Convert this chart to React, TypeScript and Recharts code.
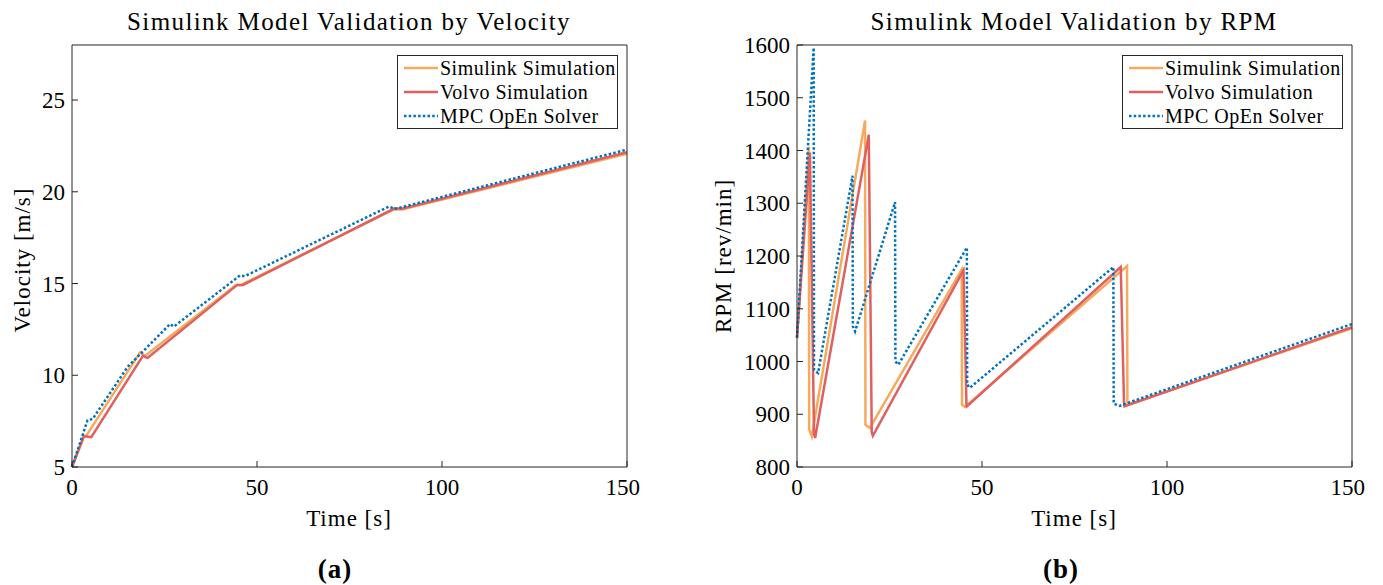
import React from 'react';
import { LineChart, Line, XAxis, YAxis } from 'recharts';

// velocity plot (a)
const velSimT = [0, 3.2, 4.0, 18.4, 19.7, 44.5, 45.6, 87.2, 89.2, 150];
const velSimV = [5.0, 6.67, 6.75, 11.25, 11.05, 14.94, 14.93, 19.05, 19.04, 22.07];
const velVolvoT = [0, 3.2, 5.2, 19.2, 20.4, 44.5, 46.2, 87.2, 89.2, 150];
const velVolvoV = [5.0, 6.67, 6.63, 11.07, 10.94, 14.9, 14.92, 19.1, 19.08, 22.15];
const velMpcT = [0, 4.2, 5.6, 15.0, 26.5, 27.5, 45.4, 46.7, 85.7, 87.2, 150];
const velMpcV = [5.0, 7.55, 7.62, 10.45, 12.79, 12.65, 15.44, 15.4, 19.2, 19.06, 22.3];

// rpm plot (b)
const rpmSimT = [0, 3.2, 3.3, 4.0, 18.4, 18.5, 19.7, 44.5, 44.6, 45.4, 89.2, 89.3, 150];
const rpmSimV = [1045, 1407, 871, 858, 1457, 880, 874, 1174, 918, 914, 1181, 918, 1063];
const rpmVolvoT = [0, 3.5, 4.6, 4.9, 19.4, 20.2, 20.5, 45.0, 45.8, 45.9, 87.5, 88.4, 88.5, 150];
const rpmVolvoV = [1045, 1396, 862, 855, 1430, 866, 859, 1173, 918, 915, 1179, 918, 915, 1065];
const rpmMpcT = [0, 4.5, 4.6, 5.7, 15.0, 15.1, 15.7, 26.5, 26.6, 27.4, 45.9, 46.0, 46.7, 85.5, 85.6, 87.2, 150];
const rpmMpcV = [1045, 1595, 984, 978, 1352, 1067, 1057, 1302, 1000, 994, 1216, 956, 950, 1179, 920, 916, 1071];

const timeTicks = [0, 50, 100, 150];
const velTicks = [5, 10, 15, 20, 25];
const rpmTicks = [800, 900, 1000, 1100, 1200, 1300, 1400, 1500, 1600];

const seriesNames = ['Simulink Simulation', 'Volvo Simulation', 'MPC OpEn Solver'];
const seriesColors = ['#F6AA5E', '#E0605F', '#0072BD'];

const FONT = '"Liberation Serif", "DejaVu Serif", serif';
const AX = '#262626';

const toPts = (t: number[], v: number[]) => t.map((x, i) => ({ t: x, v: v[i] }));

const Legend = ({ left, top }: { left: number; top: number }) => (
  <div
    style={{
      position: 'absolute',
      left,
      top,
      width: 221,
      height: 74,
      border: `1px solid ${AX}`,
      background: '#fff',
      boxSizing: 'border-box',
      fontFamily: FONT,
      fontSize: 20,
      letterSpacing: 0.5,
      color: '#000',
    }}
  >
    {seriesNames.map((n, i) => (
      <div key={n} style={{ display: 'flex', alignItems: 'center', height: 24 }}>
        <svg width={40} height={10} style={{ marginLeft: 5 }}>
          <line
            x1={1}
            x2={35}
            y1={5}
            y2={5}
            stroke={seriesColors[i]}
            strokeWidth={2.5}
            strokeDasharray={i === 2 ? '2.5 2.2' : undefined}
          />
        </svg>
        <span style={{ marginLeft: -3, whiteSpace: 'nowrap' }}>{n}</span>
      </div>
    ))}
  </div>
);

type PanelProps = {
  left: number;
  width: number;
  yWidth: number;
  domain: [number, number];
  yTicks: number[];
  sim: { t: number; v: number }[];
  volvo: { t: number; v: number }[];
  mpc: { t: number; v: number }[];
};

function Panel({ left, width, yWidth, domain, yTicks, sim, volvo, mpc }: PanelProps) {
  const tickStyle = { fontFamily: FONT, fontSize: 23, fill: '#000' };
  return (
    <div style={{ position: 'absolute', left, top: 0 }}>
      <LineChart width={width} height={500} margin={{ top: 44, right: 12, left: 12, bottom: 0 }}>
        <XAxis
          xAxisId="b"
          type="number"
          dataKey="t"
          domain={[0, 150]}
          ticks={timeTicks}
          height={33}
          stroke={AX}
          tickSize={-6}
          tickMargin={18}
          tick={tickStyle}
          allowDuplicatedCategory={false}
        />
        <XAxis
          xAxisId="t"
          orientation="top"
          type="number"
          dataKey="t"
          domain={[0, 150]}
          ticks={timeTicks}
          height={1}
          stroke={AX}
          tickSize={-6}
          tickFormatter={() => ''}
        />
        <YAxis
          yAxisId="l"
          type="number"
          domain={domain}
          ticks={yTicks}
          width={yWidth}
          stroke={AX}
          tickSize={-6}
          tickMargin={13}
          tick={tickStyle}
        />
        <YAxis
          yAxisId="r"
          orientation="right"
          type="number"
          domain={domain}
          ticks={yTicks}
          width={1}
          stroke={AX}
          tickSize={-6}
          tickFormatter={() => ''}
        />
        <Line
          xAxisId="b"
          yAxisId="l"
          data={sim}
          dataKey="v"
          type="linear"
          stroke={seriesColors[0]}
          strokeWidth={2.5}
          dot={false}
          isAnimationActive={false}
        />
        <Line
          xAxisId="b"
          yAxisId="l"
          data={volvo}
          dataKey="v"
          type="linear"
          stroke={seriesColors[1]}
          strokeWidth={2.5}
          dot={false}
          isAnimationActive={false}
        />
        <Line
          xAxisId="b"
          yAxisId="l"
          data={mpc}
          dataKey="v"
          type="linear"
          stroke={seriesColors[2]}
          strokeWidth={2.5}
          strokeDasharray="2.5 2.2"
          dot={false}
          isAnimationActive={false}
        />
      </LineChart>
    </div>
  );
}

const txt = (extra: React.CSSProperties): React.CSSProperties => ({
  position: 'absolute',
  fontFamily: FONT,
  color: '#000',
  whiteSpace: 'nowrap',
  lineHeight: 1,
  ...extra,
});

export default function App() {
  return (
    <div style={{ position: 'absolute', left: 0, top: 0, width: 1383, height: 585, background: '#fff' }}>
      <Panel
        left={0}
        width={640}
        yWidth={60}
        domain={[5, 28]}
        yTicks={velTicks}
        sim={toPts(velSimT, velSimV)}
        volvo={toPts(velVolvoT, velVolvoV)}
        mpc={toPts(velMpcT, velMpcV)}
      />
      <Panel
        left={700}
        width={665}
        yWidth={85}
        domain={[800, 1600]}
        yTicks={rpmTicks}
        sim={toPts(rpmSimT, rpmSimV)}
        volvo={toPts(rpmVolvoT, rpmVolvoV)}
        mpc={toPts(rpmMpcT, rpmMpcV)}
      />
      <Legend left={397} top={55} />
      <Legend left={1122} top={55} />

      <div style={txt({ left: 349, top: 9, fontSize: 25, letterSpacing: 1.4, transform: 'translateX(-50%)' })}>
        Simulink Model Validation by Velocity
      </div>
      <div style={txt({ left: 1074, top: 9, fontSize: 25, letterSpacing: 1.4, transform: 'translateX(-50%)' })}>
        Simulink Model Validation by RPM
      </div>
      <div style={txt({ left: 349, top: 507, fontSize: 23, letterSpacing: 1, transform: 'translateX(-50%)' })}>
        Time [s]
      </div>
      <div style={txt({ left: 1074, top: 507, fontSize: 23, letterSpacing: 1, transform: 'translateX(-50%)' })}>
        Time [s]
      </div>
      <div
        style={txt({
          left: 22,
          top: 260,
          fontSize: 23,
          letterSpacing: 1,
          transform: 'translate(-50%, -50%) rotate(-90deg)',
        })}
      >
        Velocity [m/s]
      </div>
      <div
        style={txt({
          left: 723,
          top: 256,
          fontSize: 23,
          letterSpacing: 1,
          transform: 'translate(-50%, -50%) rotate(-90deg)',
        })}
      >
        RPM [rev/min]
      </div>
      <div
        style={txt({ left: 335, top: 556, fontSize: 27, letterSpacing: 1, fontWeight: 'bold', transform: 'translateX(-50%)' })}
      >
        (a)
      </div>
      <div
        style={txt({ left: 1061, top: 556, fontSize: 27, letterSpacing: 1, fontWeight: 'bold', transform: 'translateX(-50%)' })}
      >
        (b)
      </div>
    </div>
  );
}
